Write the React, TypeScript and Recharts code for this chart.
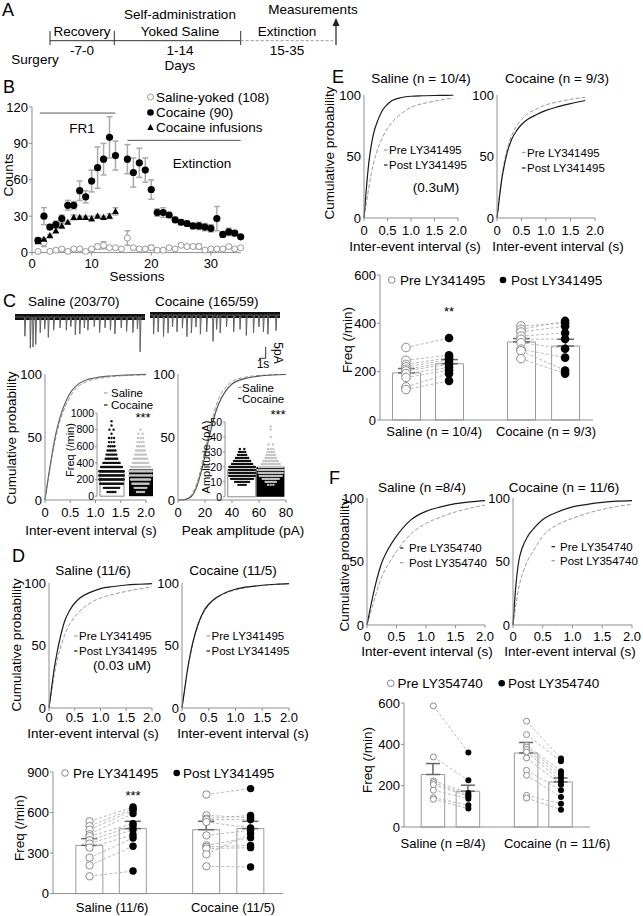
import React from 'react';
import {
  ComposedChart, LineChart, Line, Bar, Scatter, XAxis, YAxis, ErrorBar, ReferenceLine,
} from 'recharts';

const FONT = '"Liberation Sans", Arial, Helvetica, sans-serif';
const AXIS = '#8f8f8f';
const GREY = '#9b9b9b';
const INK = '#1a1a1a';

// ---------- B: lever presses across sessions ----------
const sessions = [1, 2, 3, 4, 5, 6, 7, 8, 9, 10, 11, 12, 13, 14, 15, 16, 17, 18, 19, 20, 21, 22, 23, 24, 25, 26, 27, 28, 29, 30, 31, 32, 33, 34, 35];
const salineYoked = [1, 8, 1, 2, 3, 1, 3, 3, 1, 3, 5, 6, 4, 4, 3, 12, 4, 3, 3, 4, 2, 2, 4, 3, 6, 5, 5, 5, 2, 3, 3, 3, 5, 3, 4];
const salineYokedSem = [1, 3, 1, 1, 1, 1, 1, 1, 1, 1, 2, 3, 1, 1, 1, 6, 1, 1, 1, 2, 1, 1, 1, 1, 1, 1, 1, 2, 1, 1, 1, 1, 1, 1, 1];
const cocaineLever = [10, 30, 21, 23, 28, 39, 39, 51, 46, 59, 70, 77, 95, 80, null, 77, 66, 74, 68, 52, 33, 33, 31, 27, 25, 24, 22, 22, 21, 20, 28, 15, 17, 16, 13];
const cocaineLeverSem = [2, 7, 2, 3, 3, 4, 3, 8, 5, 9, 17, 13, 17, 12, 0, 12, 12, 12, 10, 8, 3, 4, 2, 2, 2, 2, 2, 3, 3, 3, 10, 2, 3, 2, 1];
const infusionSessions = [1, 2, 3, 4, 5, 6, 7, 8, 9, 10, 11, 12, 13, 14];
const infusions = [9, 11, 14, 18, 22, 25, 29, 29, 29, 28, 30, 29, 30, 34];
const infusionsSem = [1, 1, 1, 2, 2, 1, 2, 1, 1, 2, 1, 1, 2, 3];

// ---------- C: example traces (time s, amplitude pA) ----------
const salineTraceEvents: [number, number][] = [
  [1.1, 8], [1.7, 13], [2.0, 12.5], [2.3, 11.5], [2.8, 6.5], [3.3, 5], [3.7, 8.5], [4.3, 5.5], [5.0, 4.5],
  [5.7, 5.5], [6.2, 4], [6.7, 7.5], [7.2, 7], [7.7, 4.5], [8.1, 5.5], [8.8, 4], [9.4, 6.5], [10.0, 4.5],
  [10.6, 5.5], [11.1, 7], [11.8, 4.5], [12.4, 6], [13.1, 6.5], [13.6, 5], [13.9, 14.5],
];
const cocaineTraceEvents: [number, number][] = [
  [0.4, 8], [0.9, 7], [1.5, 9], [2.0, 7.5], [2.5, 5], [3.0, 7], [3.6, 5.5], [4.1, 9], [4.6, 7.5], [5.1, 5],
  [5.6, 8], [6.3, 7], [7.0, 11], [7.4, 6], [7.8, 7.5], [8.5, 5], [9.3, 7], [10.0, 6], [10.7, 8.5], [11.5, 7.5],
  [12.1, 5], [12.6, 7], [13.1, 8], [14.0, 6.5],
];

// ---------- C: cumulative curves ----------
const ieiX = [0, 0.05, 0.1, 0.15, 0.2, 0.3, 0.4, 0.5, 0.6, 0.8, 1.0, 1.25, 1.5, 1.75, 2.0];
const cIeiSaline = [0, 13, 25, 37, 47, 63, 74, 82, 88, 93.5, 96, 97.5, 98.5, 99, 99.3];
const cIeiCocaine = [0, 14, 27, 39, 50, 66, 77, 85, 90, 95, 97, 98.3, 99, 99.4, 99.7];
const ampX = [0, 5, 8, 10, 12, 15, 18, 20, 22, 25, 28, 30, 35, 40, 50, 60, 70, 80];
const cAmpSaline = [0, 0.5, 2, 4, 8, 17, 30, 40, 50, 63, 74, 80, 89, 94, 97.5, 98.8, 99.4, 99.7];
const cAmpCocaine = [0, 0.3, 1.5, 3, 6, 14, 26, 35, 45, 58, 70, 76, 86, 92, 96.5, 98.3, 99.2, 99.6];

// ---------- C: insets (binned cell values) ----------
const freqBins = [50, 100, 150, 200, 250, 300, 350, 400, 450, 500, 550, 600, 650, 700, 750, 800, 850, 900];
const salineFreqCounts = [6, 14, 22, 30, 30, 26, 20, 15, 10, 8, 6, 4, 3, 3, 1, 2, 1, 1];
const cocaineFreqCounts = [5, 10, 15, 18, 22, 22, 18, 14, 12, 9, 7, 5, 4, 3, 2, 1, 0, 0];
const freqMeans = [285, 322];
const ampBins = [8, 10, 12, 14, 16, 18, 20, 22, 24, 26, 28, 30, 32, 35, 40, 45, 47];
const salineAmpCounts = [5, 12, 20, 26, 30, 28, 24, 18, 14, 10, 6, 4, 2, 0, 0, 0, 0];
const cocaineAmpCounts = [3, 8, 14, 20, 22, 24, 22, 16, 12, 8, 6, 4, 3, 2, 1, 1, 1];
const ampMeans = [18.2, 20];

// ---------- D ----------
const dSalinePreCdf = [0, 13, 26, 37, 45, 58, 67, 73, 77.5, 84, 88, 91, 93.3, 95.2, 97];
const dSalinePostCdf = [0, 16, 31, 43, 53, 69, 78, 84, 88, 92.5, 95.5, 97.2, 98.4, 99, 99.5];
const dCocainePreCdf = [0, 15, 29, 41, 51, 66, 76, 82.5, 86.5, 91.5, 94.5, 96.5, 98, 98.8, 99.3];
const dCocainePostCdf = [0, 15, 30, 42, 52, 67, 77, 83, 87, 92, 95, 97, 98.2, 99, 99.5];
const dBarMeans = [357, 481, 473, 481];
const dBarSem = [50, 54, 62, 54];
const dSalinePre = [535, 500, 473, 439, 424, 395, 370, 340, 266, 209, 128];
const dSalinePost = [641, 628, 616, 592, 518, 500, 473, 436, 411, 350, 167];
const dCocainePre = [733, 579, 555, 548, 530, 431, 357, 345, 333, 291, 202];
const dCocainePost = [777, 562, 579, 548, 486, 468, 414, 357, 340, 444, 197];

// ---------- E ----------
const eSalX = [0, 0.05, 0.1, 0.15, 0.2, 0.3, 0.4, 0.5, 0.6, 0.8, 1.0, 1.25, 1.5, 1.75, 1.9];
const eSalinePreCdf = [0, 12, 24, 35, 44, 57, 66, 73, 78, 85, 90, 93, 95, 96.7, 97.5];
const eSalinePostCdf = [0, 24, 44, 58, 68, 80, 88, 92.5, 95.5, 98, 99, 99.4, 99.6, 99.7, 99.8];
const eCocX = [0, 0.05, 0.1, 0.15, 0.2, 0.3, 0.4, 0.5, 0.6, 0.8, 1.0, 1.25, 1.5, 1.8];
const eCocainePreCdf = [0, 18, 34, 46, 55, 67, 75, 80, 84, 88.5, 92, 94.5, 96.5, 98];
const eCocainePostCdf = [0, 17, 32, 43, 52, 64, 71, 76, 79.5, 84, 87.5, 90.5, 93, 95.5];
const eBarMeans = [195, 233, 323, 306];
const eBarSem = [18, 17, 14, 28];
const eSalinePre = [300, 247, 230, 220, 210, 203, 192, 176, 137, 126];
const eSalinePost = [339, 268, 258, 250, 240, 231, 217, 206, 192, 162];
const eCocainePre = [389, 375, 364, 347, 334, 320, 293, 286, 254];
const eCocainePost = [400, 410, 388, 360, 335, 295, 258, 205, 192];

// ---------- F ----------
const fX = [0, 0.05, 0.1, 0.15, 0.25, 0.35, 0.5, 0.75, 1.0, 1.25, 1.5, 1.75, 2.0];
const fSalinePreCdf = [0, 12, 23, 33, 49, 59, 70, 83, 89.5, 93, 95.5, 97, 98];
const fSalinePostCdf = [0, 8, 16, 24, 38, 47, 58, 72, 80, 85, 89, 92, 94.5];
const fCocainePreCdf = [0, 32, 51, 60, 70, 76, 83, 89, 93, 95, 96.5, 97.5, 98];
const fCocainePostCdf = [0, 16, 30, 39, 51, 59, 70, 79, 84, 88, 91, 93.3, 95];
const fBarMeans = [254, 173, 358, 218];
const fBarSem = [53, 29, 51, 19];
const fSalinePre = [586, 339, 223, 215, 205, 178, 142, 134];
const fSalinePost = [360, 226, 165, 155, 149, 137, 105, 89];
const fCocainePre = [512, 447, 395, 387, 375, 363, 334, 274, 250, 153, 140];
const fCocainePost = [331, 318, 270, 255, 239, 221, 205, 178, 145, 113, 84];

const tick13 = { fontSize: 13, fill: '#000', fontFamily: FONT };
const tick10 = { fontSize: 10.5, fill: '#000', fontFamily: FONT };

interface Rect { x0: number; x1: number; y0: number; y1: number }

// plot rectangle in page pixels -> chart box
function frame(r: Rect, yw: number, xh: number, mt = 8, mr = 12) {
  return {
    style: { position: 'absolute' as const, left: r.x0 - yw, top: r.y0 - mt },
    width: r.x1 - r.x0 + yw + mr,
    height: r.y1 - r.y0 + mt + xh,
    margin: { top: mt, right: mr, bottom: 0, left: 0 },
  };
}

const hollow = (r: number, stroke = '#8a8a8a') => (p: any) => (
  <circle cx={p.cx} cy={p.cy} r={r} fill="#fff" stroke={stroke} strokeWidth={1} />
);
const filled = (r: number, fill = '#000') => (p: any) => <circle cx={p.cx} cy={p.cy} r={r} fill={fill} />;
const triangle = (p: any) => (
  <polygon points={`${p.cx},${p.cy - 3.6} ${p.cx - 3.4},${p.cy + 2.6} ${p.cx + 3.4},${p.cy + 2.6}`} fill="#000" />
);

function SessionsChart() {
  const f = frame({ x0: 32.3, x1: 241, y0: 106.7, y1: 252.3 }, 32, 20, 8, 10);
  const salineRows = sessions.map((x, i) => ({ x, y: salineYoked[i], e: salineYokedSem[i] }));
  const cocaineRows = sessions
    .map((x, i) => ({ x, y: cocaineLever[i], e: cocaineLeverSem[i] }))
    .filter((r) => r.y !== null);
  const infusionRows = infusionSessions.map((x, i) => ({ x, y: infusions[i], e: infusionsSem[i] }));
  return (
    <div style={f.style}>
      <ComposedChart width={f.width} height={f.height} margin={f.margin}>
        <XAxis dataKey="x" type="number" domain={[0, 35]} ticks={[0, 10, 20, 30]} tickSize={3} tickMargin={3}
          stroke={AXIS} tick={tick13} height={20} interval={0} />
        <YAxis type="number" domain={[0, 120]} ticks={[0, 30, 60, 90, 120]} tickSize={3} tickMargin={1}
          stroke={AXIS} tick={tick13} width={32} />
        <ReferenceLine segment={[{ x: 1.3, y: 115 }, { x: 14, y: 115 }]} stroke="#555" ifOverflow="visible" />
        <ReferenceLine segment={[{ x: 16, y: 92.5 }, { x: 35, y: 92.5 }]} stroke="#555" ifOverflow="visible" />
        <Scatter data={salineRows} dataKey="y" shape={hollow(3, '#999')} isAnimationActive={false}>
          <ErrorBar dataKey="e" direction="y" width={3} stroke="#aaa" />
        </Scatter>
        <Scatter data={infusionRows} dataKey="y" shape={triangle} isAnimationActive={false}>
          <ErrorBar dataKey="e" direction="y" width={3} stroke="#aaa" />
        </Scatter>
        <Scatter data={cocaineRows} dataKey="y" shape={filled(3.6)} isAnimationActive={false}>
          <ErrorBar dataKey="e" direction="y" width={3} stroke="#aaa" />
        </Scatter>
      </ComposedChart>
    </div>
  );
}

function traceRows(events: [number, number][], dur: number) {
  const rows = [{ t: 0, v: 0, base: 0 }];
  events.forEach(([t, a]) => {
    rows.push({ t: t - 0.04, v: 0, base: 0 }, { t, v: -a, base: 0 }, { t: t + 0.1, v: 0, base: 0 });
  });
  rows.push({ t: dur, v: 0, base: 0 });
  return rows;
}

function Trace({ left, width, top, height, base, events }: {
  left: number; width: number; top: number; height: number; base: number; events: [number, number][];
}) {
  const pxPerPa = 12 / 5;
  const dur = width / 9;
  const hi = (base - top) / pxPerPa;
  const lo = -(top + height - base) / pxPerPa;
  return (
    <div style={{ position: 'absolute', left, top }}>
      <LineChart width={width} height={height} margin={{ top: 0, right: 0, bottom: 0, left: 0 }} data={traceRows(events, dur)}>
        <XAxis dataKey="t" type="number" domain={[0, dur]} hide />
        <YAxis type="number" domain={[lo, hi]} hide allowDataOverflow />
        <Line dataKey="base" type="linear" stroke="#111" strokeWidth={6} dot={false} isAnimationActive={false} />
        <Line dataKey="v" type="linear" stroke="#606060" strokeWidth={1} dot={false} isAnimationActive={false} />
      </LineChart>
    </div>
  );
}

interface Curve { values: number[]; color: string; dashed?: boolean }

function CdfPlot({ r, xs, curves, xMax, xTicks, xTickMargin, fmt }: {
  r: Rect; xs: number[]; curves: Curve[]; xMax: number; xTicks: number[]; xTickMargin: number;
  fmt?: (v: number) => string;
}) {
  const f = frame(r, 30, 22);
  const rows = xs.map((x, i) => {
    const row: Record<string, number> = { x };
    curves.forEach((c, k) => { row['c' + k] = c.values[i]; });
    return row;
  });
  return (
    <div style={f.style}>
      <LineChart width={f.width} height={f.height} margin={f.margin} data={rows}>
        <XAxis dataKey="x" type="number" domain={[0, xMax]} ticks={xTicks}
          tickFormatter={fmt || ((v: number) => (v === 0 ? '0' : v.toFixed(1)))}
          tickSize={3} tickMargin={xTickMargin} stroke={AXIS} tick={tick13} height={22} interval={0} />
        <YAxis type="number" domain={[0, 100]} ticks={[0, 50, 100]} tickLine={false} tickSize={0} tickMargin={3}
          stroke={AXIS} tick={tick13} width={30} />
        {curves.map((c, k) => (
          <Line key={k} dataKey={'c' + k} type="monotone" stroke={c.color} strokeWidth={c.dashed ? 1 : 1.2}
            strokeDasharray={c.dashed ? '4 2' : undefined} dot={false} isAnimationActive={false} />
        ))}
      </LineChart>
    </div>
  );
}

// lay out each bin's cells in a horizontal row across the bar
function swarm(bins: number[], counts: number[], center: number, maxHalf: number) {
  const rows: { x: number; y: number }[] = [];
  bins.forEach((v, i) => {
    const n = counts[i];
    const half = Math.min(maxHalf, 0.04 + n * 0.016);
    for (let k = 0; k < n; k++) {
      const off = n === 1 ? 0 : -half + (2 * half * k) / (n - 1);
      rows.push({ x: center + off, y: v });
    }
  });
  return rows;
}

function Inset({ r, yw, yMax, yTicks, means, pos, barSize, bins, salineCounts, cocaineCounts }: {
  r: Rect; yw: number; yMax: number; yTicks: number[]; means: number[]; pos: number[]; barSize: number;
  bins: number[]; salineCounts: number[]; cocaineCounts: number[];
}) {
  const f = frame(r, yw, 8, 6, 4);
  const bars = [
    { x: pos[0], s: means[0], c: 0 },
    { x: pos[1], s: 0, c: means[1] },
  ];
  return (
    <div style={f.style}>
      <ComposedChart width={f.width} height={f.height} margin={f.margin} data={bars}>
        <XAxis dataKey="x" type="number" domain={[0, 2]} tick={false} tickLine={false} axisLine={false} height={8} />
        <XAxis xAxisId="swarm" dataKey="x" type="number" domain={[0, 2]} hide />
        <YAxis type="number" domain={[0, yMax]} ticks={yTicks} tickSize={2} tickMargin={1} stroke={AXIS}
          tick={tick10} width={yw} interval={0} />
        <Bar dataKey="s" stackId="m" barSize={barSize} fill="#fff" stroke="#888" isAnimationActive={false} />
        <Bar dataKey="c" stackId="m" barSize={barSize} fill="#000" isAnimationActive={false} />
        <Scatter xAxisId="swarm" data={swarm(bins, salineCounts, pos[0], 0.42)} dataKey="y" shape={filled(1.2, '#111')} isAnimationActive={false} />
        <Scatter xAxisId="swarm" data={swarm(bins, cocaineCounts, pos[1], 0.42)} dataKey="y" shape={filled(1.2, '#c4c4c4')} isAnimationActive={false} />
      </ComposedChart>
    </div>
  );
}

function PairedBars({ r, xh, tickMargin, pos, means, sems, pre, post, yMax, yTicks, catPos, catLabels, barSize, dotR }: {
  r: Rect; xh: number; tickMargin: number; pos: number[]; means: number[]; sems: number[];
  pre: number[][]; post: number[][]; yMax: number; yTicks: number[]; catPos: number[]; catLabels: string[];
  barSize: number; dotR: number;
}) {
  const f = frame(r, 30, xh, 8, 36);
  const bars = pos.map((x, i) => ({ x, y: means[i], err: [0, sems[i]] }));
  const links: { x: number; y: number }[][] = [];
  const preDots: { x: number; y: number }[] = [];
  const postDots: { x: number; y: number }[] = [];
  [0, 1].forEach((g) => {
    const a = pos[g * 2];
    const b = pos[g * 2 + 1];
    pre[g].forEach((v, i) => {
      links.push([{ x: a, y: v }, { x: b, y: post[g][i] }]);
      preDots.push({ x: a, y: v });
      postDots.push({ x: b, y: post[g][i] });
    });
  });
  return (
    <div style={f.style}>
      <ComposedChart width={f.width} height={f.height} margin={f.margin} data={bars}>
        <XAxis dataKey="x" type="number" domain={[0, 10]} ticks={catPos}
          tickFormatter={(v: number) => catLabels[catPos.indexOf(v)] || ''}
          tickLine={false} tickSize={0} tickMargin={tickMargin} stroke={AXIS} tick={tick13} height={xh} interval={0} />
        <YAxis type="number" domain={[0, yMax]} ticks={yTicks} tickSize={3} tickMargin={1} stroke={AXIS}
          tick={tick13} width={30} interval={0} />
        <Bar dataKey="y" fill="#fff" stroke={GREY} barSize={barSize} isAnimationActive={false}>
          <ErrorBar dataKey="err" width={barSize * 0.3} stroke="#666" direction="y" />
        </Bar>
        {links.map((l, i) => (
          <Scatter key={i} data={l} dataKey="y" line={{ stroke: '#a8a8a8', strokeDasharray: '3 2', strokeWidth: 0.8 }}
            shape={() => <g />} isAnimationActive={false} />
        ))}
        <Scatter data={preDots} dataKey="y" shape={hollow(dotR)} isAnimationActive={false} />
        <Scatter data={postDots} dataKey="y" shape={filled(dotR)} isAnimationActive={false} />
      </ComposedChart>
    </div>
  );
}

function Txt({ x, y, s = 13.5, a = 'start', r, c = '#000', children }: {
  x: number; y: number; s?: number; a?: 'start' | 'middle' | 'end'; r?: number; c?: string; children: React.ReactNode;
}) {
  return (
    <text x={x} y={y} fontSize={s} textAnchor={a} fill={c} transform={r ? `rotate(${r} ${x} ${y})` : undefined}>
      {children}
    </text>
  );
}

function DashKey({ x, y, color, label, s = 11.5, gap = 5 }: { x: number; y: number; color: string; label: string; s?: number; gap?: number }) {
  return (
    <g>
      <line x1={x} x2={x + 3.5} y1={y} y2={y} stroke={color} strokeWidth={1.2} />
      <Txt x={x + gap} y={y + 4} s={s}>{label}</Txt>
    </g>
  );
}

function Overlay() {
  return (
    <svg width={643} height={916} style={{ position: 'absolute', left: 0, top: 0, pointerEvents: 'none' }} fontFamily={FONT}>
      {/* A: timeline */}
      <Txt x={2} y={16} s={18}>A</Txt>
      <line x1={50} x2={240.7} y1={40.7} y2={40.7} stroke="#333" />
      <line x1={50} x2={50} y1={31} y2={45} stroke="#333" />
      <line x1={114.3} x2={114.3} y1={31} y2={45} stroke="#333" />
      <line x1={240.7} x2={240.7} y1={31} y2={45} stroke="#333" />
      <line x1={240.7} x2={333} y1={40.7} y2={40.7} stroke="#999" strokeDasharray="3 2" />
      <line x1={336} x2={336} y1={45} y2={24} stroke="#222" strokeWidth={1.2} />
      <polygon points="336,18 332.5,26 339.5,26" fill="#222" />
      <Txt x={82} y={36} a="middle">Recovery</Txt>
      <Txt x={180} y={19} a="middle">Self-administration</Txt>
      <Txt x={180} y={36} a="middle">Yoked Saline</Txt>
      <Txt x={313} y={14} a="middle">Measurements</Txt>
      <Txt x={287} y={36} a="middle">Extinction</Txt>
      <Txt x={82} y={55} a="middle">-7-0</Txt>
      <Txt x={180} y={55} a="middle">1-14</Txt>
      <Txt x={287} y={55} a="middle">15-35</Txt>
      <Txt x={35} y={64} a="middle">Surgery</Txt>
      <Txt x={180} y={70} a="middle">Days</Txt>

      {/* B */}
      <Txt x={3} y={93} s={18}>B</Txt>
      <circle cx={150.5} cy={97} r={3} fill="#fff" stroke="#999" />
      <Txt x={156} y={101.5}>Saline-yoked (108)</Txt>
      <circle cx={150.5} cy={112.5} r={3.3} fill="#000" />
      <Txt x={156} y={117}>Cocaine (90)</Txt>
      <polygon points="150.5,124 147.3,130 153.7,130" fill="#000" />
      <Txt x={156} y={132}>Cocaine infusions</Txt>
      <Txt x={82} y={133} a="middle">FR1</Txt>
      <Txt x={202} y={168} a="middle">Extinction</Txt>
      <Txt x={13} y={175} a="middle" r={-90}>Counts</Txt>
      <Txt x={137} y={281} a="middle">Sessions</Txt>

      {/* C */}
      <Txt x={3} y={307} s={18}>C</Txt>
      <Txt x={28} y={306}>Saline (203/70)</Txt>
      <Txt x={155} y={306}>Cocaine (165/59)</Txt>
      <line x1={265.7} x2={265.7} y1={346.7} y2={358.3} stroke="#333" />
      <line x1={259} x2={265.7} y1={358.3} y2={358.3} stroke="#333" />
      <Txt x={274} y={353} s={12} a="middle" r={90}>5pA</Txt>
      <Txt x={263} y={368} s={12} a="middle">1s</Txt>
      <DashKey x={104} y={393} color={GREY} label="Saline" gap={7} />
      <DashKey x={104} y={405} color={INK} label="Cocaine" gap={7} />
      <Txt x={143} y={422} s={13} a="middle">***</Txt>
      <DashKey x={238} y={387.5} color={GREY} label="Saline" gap={4} />
      <DashKey x={238} y={398.5} color={INK} label="Cocaine" gap={4} />
      <Txt x={278} y={419} s={13} a="middle">***</Txt>
      <Txt x={73.5} y={450} s={11} a="middle" r={-90}>Freq (/min)</Txt>
      <Txt x={210} y={457} s={11} a="middle" r={-90}>Amplitude (pA)</Txt>
      <Txt x={16} y={438} a="middle" r={-90}>Cumulative probability</Txt>
      <Txt x={91} y={535} a="middle">Inter-event interval (s)</Txt>
      <Txt x={243} y={535} a="middle">Peak amplitude (pA)</Txt>

      {/* D */}
      <Txt x={12} y={562} s={18}>D</Txt>
      <Txt x={93} y={575} a="middle">Saline (11/6)</Txt>
      <Txt x={233} y={575} a="middle">Cocaine (11/5)</Txt>
      <DashKey x={74} y={636} color={GREY} label="Pre LY341495" />
      <DashKey x={74} y={651} color={INK} label="Post LY341495" />
      <Txt x={122} y={670} a="middle">(0.03 uM)</Txt>
      <DashKey x={206.5} y={636} color={GREY} label="Pre LY341495" />
      <DashKey x={206.5} y={651} color={INK} label="Post LY341495" />
      <Txt x={21} y={645} a="middle" r={-90}>Cumulative probability</Txt>
      <Txt x={93} y={738} a="middle">Inter-event interval (s)</Txt>
      <Txt x={243} y={738} a="middle">Inter-event interval (s)</Txt>
      <circle cx={65} cy={773} r={3.3} fill="#fff" stroke="#888" />
      <Txt x={73} y={777.5}>Pre LY341495</Txt>
      <circle cx={176.7} cy={773} r={3.3} fill="#000" />
      <Txt x={183} y={777.5}>Post LY341495</Txt>
      <Txt x={133} y={800} s={13} a="middle">***</Txt>
      <Txt x={24} y={828} a="middle" r={-90}>Freq (/min)</Txt>

      {/* E */}
      <Txt x={332} y={83} s={18}>E</Txt>
      <Txt x={421} y={83} a="middle">Saline (n = 10/4)</Txt>
      <Txt x={557} y={83} a="middle">Cocaine (n = 9/3)</Txt>
      <DashKey x={384} y={150} color={GREY} label="Pre LY341495" />
      <DashKey x={384} y={165} color={INK} label="Post LY341495" />
      <Txt x={436} y={192} a="middle">(0.3uM)</Txt>
      <DashKey x={522} y={152.5} color={GREY} label="Pre LY341495" />
      <DashKey x={522} y={168} color={INK} label="Post LY341495" />
      <Txt x={334} y={153} a="middle" r={-90}>Cumulative probability</Txt>
      <Txt x={415} y={251} a="middle">Inter-event interval (s)</Txt>
      <Txt x={558} y={251} a="middle">Inter-event interval (s)</Txt>
      <circle cx={391.7} cy={280} r={3.3} fill="#fff" stroke="#888" />
      <Txt x={400} y={285}>Pre LY341495</Txt>
      <circle cx={503} cy={280} r={3.3} fill="#000" />
      <Txt x={511} y={285}>Post LY341495</Txt>
      <Txt x={449} y={316} s={13} a="middle">**</Txt>
      <Txt x={352} y={340} a="middle" r={-90}>Freq (/min)</Txt>

      {/* F */}
      <Txt x={329} y={484} s={18}>F</Txt>
      <Txt x={422} y={492} a="middle">Saline (n =8/4)</Txt>
      <Txt x={564} y={492} a="middle">Cocaine (n = 11/6)</Txt>
      <DashKey x={400} y={548} color={INK} label="Pre LY354740" gap={9} />
      <DashKey x={400} y={562.7} color={GREY} label="Post LY354740" gap={9} />
      <DashKey x={551.5} y={546.7} color={INK} label="Pre LY354740" gap={8.5} />
      <DashKey x={551.5} y={560.7} color={GREY} label="Post LY354740" gap={8.5} />
      <Txt x={349} y={565} a="middle" r={-90}>Cumulative probability</Txt>
      <Txt x={427} y={656} a="middle">Inter-event interval (s)</Txt>
      <Txt x={570} y={656} a="middle">Inter-event interval (s)</Txt>
      <circle cx={390.7} cy={683.3} r={3.3} fill="#fff" stroke="#888" />
      <Txt x={397.5} y={688}>Pre LY354740</Txt>
      <circle cx={501.7} cy={683.3} r={3.3} fill="#000" />
      <Txt x={508} y={688}>Post LY354740</Txt>
      <Txt x={372} y={760} a="middle" r={-90}>Freq (/min)</Txt>
    </svg>
  );
}

const ieiTicks = [0, 0.5, 1, 1.5, 2];

export default function App() {
  return (
    <div style={{ position: 'absolute', left: 0, top: 0, width: 643, height: 916, background: '#fff', fontFamily: FONT, overflow: 'hidden' }}>
      <SessionsChart />

      <Trace left={15} width={130} top={305} height={51} base={317} events={salineTraceEvents} />
      <Trace left={150} width={130} top={305} height={51} base={315} events={cocaineTraceEvents} />

      <CdfPlot r={{ x0: 45, x1: 146, y0: 374, y1: 500 }} xs={ieiX} xMax={2} xTicks={ieiTicks} xTickMargin={5}
        curves={[{ values: cIeiSaline, color: GREY, dashed: true }, { values: cIeiCocaine, color: '#666' }]} />
      <CdfPlot r={{ x0: 178, x1: 286, y0: 374, y1: 500 }} xs={ampX} xMax={80} xTicks={[0, 20, 40, 60, 80]} xTickMargin={5}
        fmt={(v: number) => String(v)}
        curves={[{ values: cAmpSaline, color: GREY, dashed: true }, { values: cAmpCocaine, color: '#555' }]} />
      <Inset r={{ x0: 97, x1: 155, y0: 413.3, y1: 496.5 }} yw={27} yMax={1000} yTicks={[0, 200, 400, 600, 800, 1000]}
        means={freqMeans} pos={[0.5, 1.5]} barSize={24} bins={freqBins}
        salineCounts={salineFreqCounts} cocaineCounts={cocaineFreqCounts} />
      <Inset r={{ x0: 225, x1: 286, y0: 421.7, y1: 496.5 }} yw={17} yMax={50} yTicks={[0, 10, 20, 30, 40, 50]}
        means={ampMeans} pos={[0.56, 1.5]} barSize={28} bins={ampBins}
        salineCounts={salineAmpCounts} cocaineCounts={cocaineAmpCounts} />

      <CdfPlot r={{ x0: 49, x1: 152, y0: 583, y1: 708 }} xs={ieiX} xMax={2} xTicks={ieiTicks} xTickMargin={1.5}
        curves={[{ values: dSalinePreCdf, color: GREY, dashed: true }, { values: dSalinePostCdf, color: INK }]} />
      <CdfPlot r={{ x0: 182, x1: 289, y0: 583, y1: 708 }} xs={ieiX} xMax={2} xTicks={ieiTicks} xTickMargin={1.5}
        curves={[{ values: dCocainePreCdf, color: GREY, dashed: true }, { values: dCocainePostCdf, color: INK }]} />
      <PairedBars r={{ x0: 53, x1: 283, y0: 771.7, y1: 893.3 }} xh={22.7} tickMargin={9}
        pos={[1.59, 3.48, 6.67, 8.59]} means={dBarMeans} sems={dBarSem}
        pre={[dSalinePre, dCocainePre]} post={[dSalinePost, dCocainePost]} yMax={900} yTicks={[0, 300, 600, 900]}
        catPos={[2.57, 7.83]} catLabels={['Saline (11/6)', 'Cocaine (11/5)']} barSize={27} dotR={3.7} />

      <CdfPlot r={{ x0: 364, x1: 458, y0: 95, y1: 218 }} xs={eSalX} xMax={2} xTicks={ieiTicks} xTickMargin={4.4}
        curves={[{ values: eSalinePreCdf, color: GREY, dashed: true }, { values: eSalinePostCdf, color: INK }]} />
      <CdfPlot r={{ x0: 497, x1: 595, y0: 95, y1: 218 }} xs={eCocX} xMax={2} xTicks={ieiTicks} xTickMargin={4.4}
        curves={[{ values: eCocainePreCdf, color: GREY, dashed: true }, { values: eCocainePostCdf, color: INK }]} />
      <PairedBars r={{ x0: 380, x1: 593, y0: 275, y1: 420 }} xh={24} tickMargin={6.4}
        pos={[1.22, 3.24, 6.62, 8.69]} means={eBarMeans} sems={eBarSem}
        pre={[eSalinePre, eCocainePre]} post={[eSalinePost, eCocainePost]} yMax={600} yTicks={[0, 200, 400, 600]}
        catPos={[2.54, 7.79]} catLabels={['Saline (n = 10/4)', 'Cocaine (n = 9/3)']} barSize={28} dotR={4.3} />

      <CdfPlot r={{ x0: 367, x1: 485, y0: 498, y1: 625 }} xs={fX} xMax={2} xTicks={ieiTicks} xTickMargin={4}
        curves={[{ values: fSalinePostCdf, color: GREY, dashed: true }, { values: fSalinePreCdf, color: INK }]} />
      <CdfPlot r={{ x0: 513, x1: 632, y0: 498, y1: 625 }} xs={fX} xMax={2} xTicks={ieiTicks} xTickMargin={4}
        curves={[{ values: fCocainePostCdf, color: GREY, dashed: true }, { values: fCocainePreCdf, color: INK }]} />
      <PairedBars r={{ x0: 404, x1: 590, y0: 702.7, y1: 826.7 }} xh={26} tickMargin={11.4}
        pos={[1.58, 3.46, 6.59, 8.44]} means={fBarMeans} sems={fBarSem}
        pre={[fSalinePre, fCocainePre]} post={[fSalinePost, fCocainePost]} yMax={600} yTicks={[0, 200, 400, 600]}
        catPos={[2.1, 8.23]} catLabels={['Saline (n =8/4)', 'Cocaine (n = 11/6)']} barSize={23.5} dotR={3} />

      <Overlay />
    </div>
  );
}
